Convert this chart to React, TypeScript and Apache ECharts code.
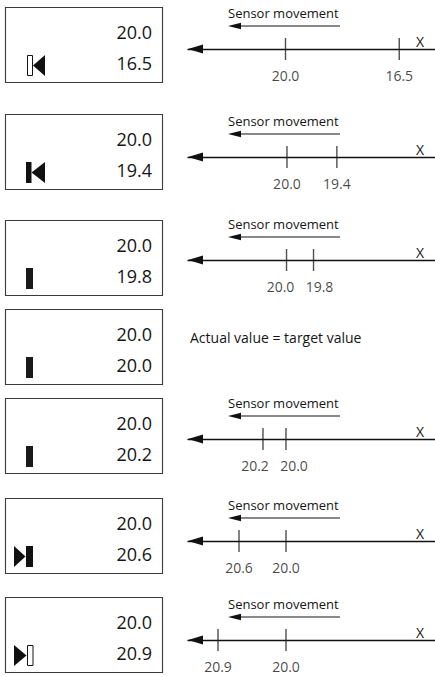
import React, { useEffect, useRef } from "react";
import * as echarts from "echarts";

// ---- data ----
const targetValues = [20.0, 20.0, 20.0, 20.0, 20.0, 20.0, 20.0];
const actualValues = [16.5, 19.4, 19.8, 20.0, 20.2, 20.6, 20.9];
// indicator symbol shown in the display for each state
const indicatorStates = ["outlineLeft", "filledLeft", "bar", "bar", "bar", "rightFilled", "rightOutline"];
// schematic axis range per row (axis runs from right = small to left = large)
const axisMax = [23.0, 21.19, 20.73, null, 20.852, 21.251, 21.297];
const axisMin = [15.4, 18.22, 18.9, null, 18.704, 18.098, 18.028];
const movementLabel = "Sensor movement";
const equalLabel = "Actual value = target value";
const axisName = "X";

// ---- layout ----
const boxTops = [7, 114, 220, 309, 398, 498, 597];
const axisYs = [49, 157, 260, null, 439, 541, 640];
const FONT = '"Open Sans", "DejaVu Sans", sans-serif';
const INK = "#151515";
const MIN_LABEL_SEP = 39;

function buildOption(labelShifts: number[][] | null) {
  const grids: any[] = [];
  const xAxes: any[] = [];
  const yAxes: any[] = [];
  const series: any[] = [];
  const graphic: any[] = [];

  actualValues.forEach((actual, i) => {
    const top = boxTops[i];
    graphic.push({
      type: "rect",
      shape: { x: 5.5, y: top + 0.5, width: 157, height: 75 },
      style: { fill: "#fff", stroke: "#3a3a3a", lineWidth: 1.1 },
      silent: true,
    });
    graphic.push({
      type: "text",
      x: 152,
      y: top + 25,
      style: { text: targetValues[i].toFixed(1), fontSize: 18, fontFamily: FONT, fill: INK, align: "right", verticalAlign: "middle" },
    });
    graphic.push({
      type: "text",
      x: 152,
      y: top + 55.5,
      style: { text: actual.toFixed(1), fontSize: 18, fontFamily: FONT, fill: INK, align: "right", verticalAlign: "middle" },
    });
    const y0 = top + 48;
    const y1 = top + 69;
    const ym = (y0 + y1) / 2;
    const st = indicatorStates[i];
    if (st === "outlineLeft") {
      graphic.push({ type: "rect", shape: { x: 27.5, y: y0 + 0.5, width: 5, height: 20 }, style: { fill: "#fff", stroke: INK, lineWidth: 1 } });
      graphic.push({ type: "polygon", shape: { points: [[33, ym], [45, y0], [45, y1]] }, style: { fill: "#111" } });
    } else if (st === "filledLeft") {
      graphic.push({ type: "rect", shape: { x: 26, y: y0, width: 5.5, height: 21 }, style: { fill: "#111" } });
      graphic.push({ type: "polygon", shape: { points: [[31.5, ym], [45, y0], [45, y1]] }, style: { fill: "#111" } });
    } else if (st === "bar") {
      graphic.push({ type: "rect", shape: { x: 26, y: y0, width: 7, height: 21 }, style: { fill: "#1a1a1a" } });
    } else if (st === "rightFilled") {
      graphic.push({ type: "polygon", shape: { points: [[14, y0], [14, y1], [25.5, ym]] }, style: { fill: "#111" } });
      graphic.push({ type: "rect", shape: { x: 26, y: y0, width: 7, height: 21 }, style: { fill: "#111" } });
    } else if (st === "rightOutline") {
      graphic.push({ type: "polygon", shape: { points: [[14, y0], [14, y1], [26.5, ym]] }, style: { fill: "#111" } });
      graphic.push({ type: "rect", shape: { x: 27.5, y: y0 + 0.5, width: 5.5, height: 20 }, style: { fill: "#fff", stroke: INK, lineWidth: 1 } });
    }

    const ay = axisYs[i];
    if (ay == null) {
      graphic.push({
        type: "text",
        x: 190,
        y: top + 28,
        style: { text: equalLabel, fontSize: 14, fontFamily: FONT, fill: INK, align: "left", verticalAlign: "middle" },
      });
      return;
    }

    graphic.push({
      type: "text",
      x: 228,
      y: ay - 36,
      style: { text: movementLabel, fontSize: 13, fontFamily: FONT, fill: INK, align: "left", verticalAlign: "middle" },
    });
    graphic.push({
      type: "line",
      shape: { x1: 238, y1: ay - 23, x2: 340, y2: ay - 23 },
      style: { stroke: INK, lineWidth: 1.2 },
    });
    graphic.push({
      type: "polygon",
      shape: { points: [[228, ay - 23], [241, ay - 26.2], [241, ay - 19.8]] },
      style: { fill: "#111" },
    });

    const gi = grids.length;
    grids.push({ left: 188, right: 0, top: ay - 20, height: 40, outerBoundsMode: "none", containLabel: false });
    xAxes.push({
      type: "value",
      gridIndex: gi,
      inverse: true,
      min: axisMin[i],
      max: axisMax[i],
      name: axisName,
      nameLocation: "start",
      nameGap: -15,
      nameTextStyle: { fontSize: 14, fontFamily: FONT, color: INK, align: "center", verticalAlign: "bottom", padding: [0, 0, 1, 0] },
      axisLine: {
        show: true,
        onZero: true,
        symbol: ["triangle", "none"],
        symbolSize: [9, 15],
        symbolOffset: [7.5, 0],
        lineStyle: { color: "#111", width: 1.3 },
      },
      axisTick: { show: false },
      axisLabel: { show: false },
      splitLine: { show: false },
    });
    yAxes.push({ type: "value", gridIndex: gi, min: -1, max: 1, show: false });
    const shifts = labelShifts ? labelShifts[gi] : [0, 0];
    series.push({
      type: "scatter",
      xAxisIndex: gi,
      yAxisIndex: gi,
      symbol: "rect",
      symbolSize: [1.4, 22],
      itemStyle: { color: "#222" },
      data: [targetValues[i], actual].map((v, k) => ({
        value: [v, 0],
        label: { offset: [shifts[k], 0] },
      })),
      label: {
        show: true,
        position: "bottom",
        distance: 8,
        fontSize: 14,
        fontFamily: FONT,
        color: INK,
        formatter: (p: any) => Number(p.value[0]).toFixed(1),
      },
      emphasis: { disabled: true },
    });
  });

  return {
    animation: false,
    backgroundColor: "#fff",
    grid: grids,
    xAxis: xAxes,
    yAxis: yAxes,
    series,
    graphic,
  };
}

export default function App() {
  const ref = useRef<HTMLDivElement>(null);
  useEffect(() => {
    if (!ref.current) return;
    const chart = echarts.init(ref.current, undefined, { renderer: "svg" });
    chart.setOption(buildOption(null));
    // spread tick labels that would collide, using the axes' own pixel mapping
    const shifts: number[][] = [];
    let s = 0;
    actualValues.forEach((actual, i) => {
      if (axisYs[i] == null) return;
      const pT = chart.convertToPixel({ seriesIndex: s } as any, [targetValues[i], 0]) as any;
      const pA = chart.convertToPixel({ seriesIndex: s } as any, [actual, 0]) as any;
      const d = Math.abs(pT[0] - pA[0]);
      if (d < MIN_LABEL_SEP) {
        const half = (MIN_LABEL_SEP - d) / 2;
        const signT = pT[0] < pA[0] ? -1 : 1;
        shifts.push([signT * half, -signT * half]);
      } else {
        shifts.push([0, 0]);
      }
      s++;
    });
    chart.setOption(buildOption(shifts), true);
    return () => chart.dispose();
  }, []);
  return (
    <div
      ref={ref}
      style={{ position: "absolute", left: 0, top: 0, width: 435, height: 677, background: "#fff" }}
    />
  );
}
